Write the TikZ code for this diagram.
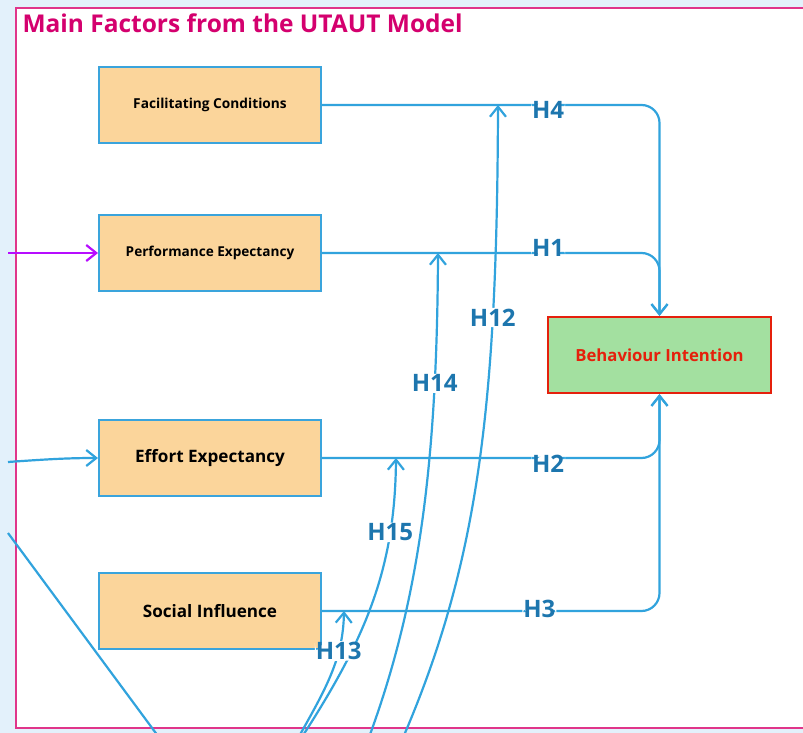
\documentclass[tikz,border=0pt]{standalone}
\usepackage{fontspec}
\setsansfont{Open Sans}
\usetikzlibrary{arrows.meta}
\definecolor{paneblue}{HTML}{E3F1FB}
\definecolor{framepink}{HTML}{E0358A}
\definecolor{titlemag}{HTML}{D4006E}
\definecolor{boxfill}{HTML}{FBD59B}
\definecolor{boxline}{HTML}{3AA4DC}
\definecolor{linkblue}{HTML}{31A3DD}
\definecolor{labelblue}{HTML}{1D76AE}
\definecolor{bifill}{HTML}{A3E0A0}
\definecolor{bired}{HTML}{E5200C}
\definecolor{purplein}{HTML}{B70DFF}
\tikzstyle{factor} = [rectangle, minimum width=222pt, minimum height=76pt,
                      text centered, draw=boxline, fill=boxfill,
                      line width=2pt, font=\sffamily\bfseries]
\tikzstyle{outcome} = [rectangle, minimum width=223pt, minimum height=76pt,
                       text centered, draw=bired, fill=bifill, text=bired,
                       line width=2.2pt, font=\sffamily\bfseries\fontsize{16.7}{18}\selectfont]
\tikzstyle{hyp} = [line width=2.2pt, draw=linkblue, rounded corners=18pt,
                   -{Straight Barb[length=10pt,width=16pt]}]
\tikzstyle{hlabel} = [fill=white, inner sep=1pt, text=labelblue,
                      font=\sffamily\bfseries\fontsize{24}{26}\selectfont]

\begin{document}
\begin{tikzpicture}[x=1pt, y=-1pt, node distance=150pt]
        \useasboundingbox (0,0) rectangle (803,733);
        \fill[paneblue] (0,0) rectangle (803,733);
        \filldraw[fill=white, draw=framepink, line width=1.4pt] (16,8) rectangle (810,728);

        \node (title) [anchor=base west, text=titlemag,
               font=\sffamily\bfseries\fontsize{24.5}{28}\selectfont] at (19,33)
               {Main Factors from the UTAUT Model};

        %UTAUT factors
        \node (FC) [factor, font=\sffamily\bfseries\fontsize{13.7}{15}\selectfont] at (210,105) {Facilitating Conditions};
        \node (PE) [factor, font=\sffamily\bfseries\fontsize{13.6}{15}\selectfont, below of = FC, yshift=2pt] {Performance Expectancy};
        \node (EE) [factor, font=\sffamily\bfseries\fontsize{17.1}{19}\selectfont, below of = PE, yshift=-55pt] {Effort Expectancy};
        \node (SI) [factor, font=\sffamily\bfseries\fontsize{17.1}{19}\selectfont, below of = EE, yshift=-3pt] {Social Influence};

        %Behaviour intention
        \node (BI) [outcome, right of = PE, xshift=299.5pt, yshift=-102pt] {Behaviour Intention};

        %Factors to intention
        \draw [hyp] (FC.east) -- node [hlabel, pos=0.67, yshift=-5pt] {H4} (FC.east -| BI.north) -- (BI.north);
        \draw [hyp] (PE.east) -- node [hlabel, pos=0.67, yshift=5pt] {H1} (PE.east -| BI.north) -- (BI.north);
        \draw [hyp] (EE.east) -- node [hlabel, pos=0.67, yshift=-6pt] {H2} (EE.east -| BI.south) -- (BI.south);
        \draw [hyp] (SI.east) -- node [hlabel, pos=0.644, yshift=2pt] {H3} (SI.east -| BI.south) -- (BI.south);

        %Incoming lines from the left
        \coordinate (inPE) at (8,253);
        \coordinate (inEE) at (8,462);
        \coordinate (diagTop) at (8,533);
        \coordinate (diagEnd) at (158,736);
        \draw [hyp, draw=purplein] (inPE) -- (PE.west);
        \draw [hyp] (inEE) .. controls (50,459) and (70,458) .. (EE.west);
        \draw [line width=2.2pt, draw=linkblue] (diagTop) -- (diagEnd);

        %Moderating curves from below
        \coordinate (srcH13) at (297,740);
        \coordinate (srcH15) at (300,740);
        \coordinate (srcH14) at (368,740);
        \coordinate (srcH12) at (402,740);
        \path (SI.east) ++(22,0) coordinate (tipH13);
        \path (EE.east) ++(74,0) coordinate (tipH15);
        \path (PE.east) ++(116,0) coordinate (tipH14);
        \path (FC.east) ++(176,0) coordinate (tipH12);

        \draw [hyp] (srcH12) .. controls (480,560) and (497,400) .. node [hlabel, pos=0.73] {H12} (tipH12);
        \draw [hyp] (srcH14) .. controls (420,600) and (437,460) .. node [hlabel, pos=0.775] {H14} (tipH14);
        \draw [hyp] (srcH15) .. controls (365,640) and (395,570) .. node [hlabel, pos=0.76] {H15} (tipH15);
        \draw [hyp] (srcH13) .. controls (325,690) and (343,660) .. node [hlabel, pos=0.7] {H13} (tipH13);

\end{tikzpicture}
\end{document}
